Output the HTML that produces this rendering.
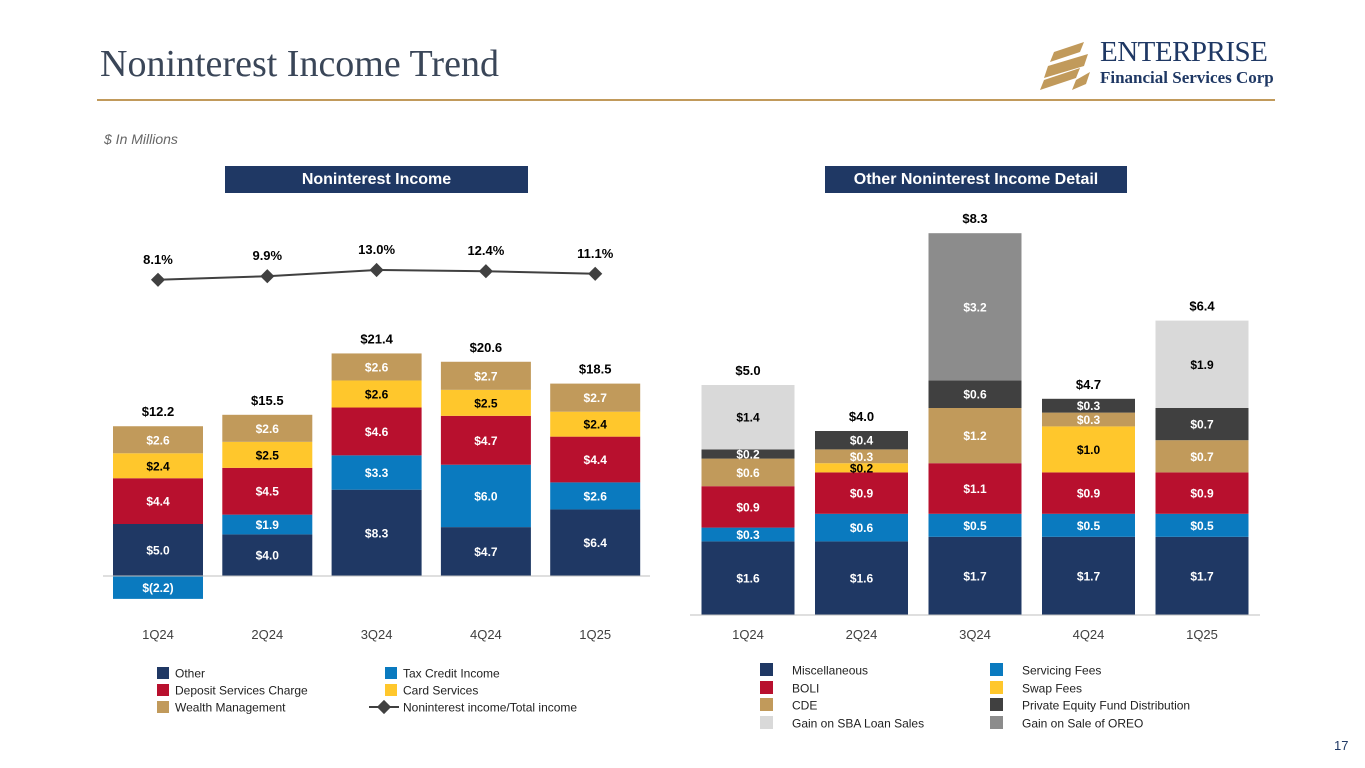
<!DOCTYPE html>
<html><head><meta charset="utf-8"><style>
body{margin:0;width:1365px;height:768px;background:#fff;font-family:"Liberation Sans",sans-serif;overflow:hidden;position:relative}
.abs{position:absolute}
</style></head><body>
<div class="abs" style="left:100px;top:42px;font-family:'Liberation Serif',serif;font-size:38px;color:#3a4658">Noninterest Income Trend</div>
<div class="abs" style="left:1040px;top:38px;width:240px;height:55px">
<svg width="60" height="52" style="position:absolute;left:0;top:4px"><g fill="#c19a5b"><polygon points="14,10 44,0 40,10 10,20"/><polygon points="8,24 48,12 44,24 4,36"/><polygon points="4,38 40,26 36,36 0,48"/><polygon points="36,38 50,30 46,42 32,48"/></g></svg>
<div style="position:absolute;left:60px;top:-2px;font-family:'Liberation Serif',serif;font-size:29px;color:#1f3864;letter-spacing:-0.5px">ENTERPRISE</div>
<div style="position:absolute;left:60px;top:30px;font-family:'Liberation Serif',serif;font-size:17px;font-weight:bold;color:#1f3864">Financial Services Corp</div>
</div>
<div class="abs" style="left:97px;top:99px;width:1178px;height:2px;background:#c19a5b"></div>
<div class="abs" style="left:104px;top:131px;font-size:14px;font-style:italic;color:#666">$ In Millions</div>
<div class="abs" style="left:225px;top:166px;width:303px;height:27px;background:#1f3864;color:#fff;font-weight:bold;font-size:16px;text-align:center;line-height:27px">Noninterest Income</div>
<div class="abs" style="left:825px;top:166px;width:302px;height:27px;background:#1f3864;color:#fff;font-weight:bold;font-size:16px;text-align:center;line-height:27px">Other Noninterest Income Detail</div>
<svg id="chart" class="abs" style="left:0;top:0" width="1365" height="768"></svg>
<div class="abs" style="left:1334px;top:738px;font-size:13px;color:#1f3864">17</div>
<script>
const quarters=["1Q24","2Q24","3Q24","4Q24","1Q25"];
const otherVals=[5.0,4.0,8.3,4.7,6.4];
const taxVals=[-2.2,1.9,3.3,6.0,2.6];
const depositVals=[4.4,4.5,4.6,4.7,4.4];
const cardVals=[2.4,2.5,2.6,2.5,2.4];
const wealthVals=[2.6,2.6,2.6,2.7,2.7];
const leftTotals=[12.2,15.5,21.4,20.6,18.5];
const ratioVals=[8.1,9.9,13.0,12.4,11.1];
const miscVals=[1.6,1.6,1.7,1.7,1.7];
const servVals=[0.3,0.6,0.5,0.5,0.5];
const boliVals=[0.9,0.9,1.1,0.9,0.9];
const swapVals=[0,0.2,0,1.0,0];
const cdeVals=[0.6,0.3,1.2,0.3,0.7];
const peVals=[0.2,0.4,0.6,0.3,0.7];
const oreoVals=[0,0,3.2,0,0];
const sbaVals=[1.4,0,0,0,1.9];
const rightTotals=[5.0,4.0,8.3,4.7,6.4];

const NS="http://www.w3.org/2000/svg";
const svg=document.getElementById('chart');
function mk(tag,attrs,parent){const e=document.createElementNS(NS,tag);for(const k in attrs)e.setAttribute(k,attrs[k]);(parent||svg).appendChild(e);return e;}
function txt(x,y,s,fill,size,weight,anchor){const t=mk('text',{x:x,y:y,fill:fill,'font-size':size,'font-weight':weight||'normal','text-anchor':anchor||'middle','font-family':'Liberation Sans, sans-serif'});t.textContent=s;return t;}
function money(v){return v<0?'$('+Math.abs(v).toFixed(1)+')':'$'+v.toFixed(1);}

const Lx=i=>158+i*109.3, Ly=v=>576-v*10.4, LW=90;
const Py=p=>296-2*p;
const leftSeries=[[otherVals,'#1f3864','#fff','other'],[taxVals,'#0a7abf','#fff','tax-credit'],[depositVals,'#b8102e','#fff','deposit'],[cardVals,'#ffc72c','#000','card'],[wealthVals,'#c19a5b','#fff','wealth']];
quarters.forEach((q,i)=>{
  let pos=0;
  leftSeries.forEach(([arr,col,tc,nm])=>{
    const v=arr[i];
    let y0,y1;
    if(v<0){y0=Ly(0);y1=Ly(v);}else{y0=Ly(pos+v);y1=Ly(pos);pos+=v;}
    const r=mk('rect',{x:Lx(i)-LW/2,y:y0,width:LW,height:y1-y0,fill:col});
    
    
    txt(Lx(i),(y0+y1)/2+4.5,money(v),tc,12,'bold');
  });
  const t=txt(Lx(i),Ly(pos)-10,money(leftTotals[i]),'#000',13,'bold');
  
  
  txt(Lx(i),639,q,'#404040',13);
});
mk('line',{x1:103,y1:576,x2:650,y2:576,stroke:'#bfbfbf','stroke-width':1});
const pts=ratioVals.map((p,i)=>Lx(i)+','+Py(p)).join(' ');
const pl=mk('polyline',{points:pts,fill:'none',stroke:'#404040','stroke-width':2});


ratioVals.forEach((p,i)=>{
  const d=mk('rect',{x:Lx(i)-5,y:Py(p)-5,width:10,height:10,fill:'#404040',transform:'rotate(45 '+Lx(i)+' '+Py(p)+')'});
  
  
  txt(Lx(i),Py(p)-16,p.toFixed(1)+'%','#000',13,'bold');
});

const Rx=i=>748+i*113.5, Ry=v=>615-v*46, RW=93;
const rightSeries=[[miscVals,'#1f3864','#fff','misc'],[servVals,'#0a7abf','#fff','servicing'],[boliVals,'#b8102e','#fff','boli'],[swapVals,'#ffc72c','#000','swap'],[cdeVals,'#c19a5b','#fff','cde'],[peVals,'#404040','#fff','private-equity'],[oreoVals,'#8c8c8c','#fff','oreo'],[sbaVals,'#d9d9d9','#000','sba']];
quarters.forEach((q,i)=>{
  let pos=0;
  rightSeries.forEach(([arr,col,tc,nm])=>{
    const v=arr[i]; if(v<=0)return;
    const y0=Ry(pos+v),y1=Ry(pos);pos+=v;
    const r=mk('rect',{x:Rx(i)-RW/2,y:y0,width:RW,height:y1-y0,fill:col});
    
    
    txt(Rx(i),(y0+y1)/2+4.5,money(v),tc,12,'bold');
  });
  const t=txt(Rx(i),Ry(rightTotals[i])-10,money(rightTotals[i]),'#000',13,'bold');
  
  
  txt(Rx(i),639,q,'#404040',13);
});
mk('line',{x1:690,y1:615,x2:1260,y2:615,stroke:'#bfbfbf','stroke-width':1});

const leftLegend=[["Other",'#1f3864',157,673],["Deposit Services Charge",'#b8102e',157,690],["Wealth Management",'#c19a5b',157,707],["Tax Credit Income",'#0a7abf',385,673],["Card Services",'#ffc72c',385,690]];
leftLegend.forEach(([n,c,x,y])=>{
  const r=mk('rect',{x:x,y:y-6,width:12,height:12,fill:c});
  
  
  txt(x+18,y+4.5,n,'#222',12,'normal','start');
});
mk('line',{x1:369,y1:707,x2:399,y2:707,stroke:'#404040','stroke-width':2});
mk('rect',{x:379,y:702,width:10,height:10,fill:'#404040',transform:'rotate(45 384 707)'});
txt(403,711.5,'Noninterest income/Total income','#222',12,'normal','start');
const rightLegend=[["Miscellaneous",'#1f3864',760,670],["BOLI",'#b8102e',760,688],["CDE",'#c19a5b',760,705],["Gain on SBA Loan Sales",'#d9d9d9',760,723],["Servicing Fees",'#0a7abf',990,670],["Swap Fees",'#ffc72c',990,688],["Private Equity Fund Distribution",'#404040',990,705],["Gain on Sale of OREO",'#8c8c8c',990,723]];
rightLegend.forEach(([n,c,x,y])=>{
  const r=mk('rect',{x:x,y:y-7,width:13,height:13,fill:c});
  
  
  txt(x+32,y+4.5,n,'#222',12,'normal','start');
});
</script>
</body></html>
